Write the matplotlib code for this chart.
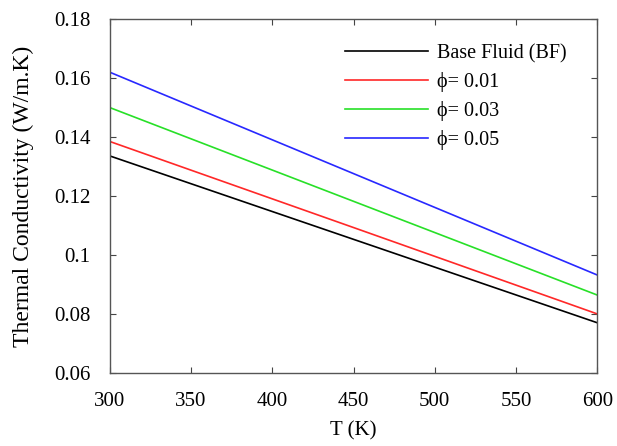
import matplotlib
matplotlib.use("Agg")
import matplotlib.pyplot as plt

plt.rcParams['font.family'] = ['Liberation Serif', 'DejaVu Serif']

temps = [300, 450, 600]
k_bf = [0.1336, 0.1053, 0.0770]
k_001 = [0.1385, 0.1093, 0.0800]
k_003 = [0.1500, 0.1182, 0.0864]
k_005 = [0.1620, 0.1276, 0.0932]

labels = ["Base Fluid (BF)", "\u03d5= 0.01", "\u03d5= 0.03", "\u03d5= 0.05"]
colors = ["black", "#ff2828", "#28e028", "#2828ff"]
series = [k_bf, k_001, k_003, k_005]

fig = plt.figure(figsize=(6.17, 4.46), dpi=100)
ax = fig.add_axes([0.178, 0.164, 0.79, 0.793])

for vals, lab, col in zip(series, labels, colors):
    ax.plot(temps, vals, color=col, lw=1.2, label=lab)

ax.set_xlim(300, 600)
ax.set_ylim(0.06, 0.18)
ax.set_xticks([300, 350, 400, 450, 500, 550, 600])
ax.set_yticks([0.06, 0.08, 0.10, 0.12, 0.14, 0.16, 0.18])
ax.set_yticklabels(["0.06", "0.08", "0.1", "0.12", "0.14", "0.16", "0.18"])
ax.tick_params(direction='in', top=True, right=True, labelsize=15, length=4,
               colors='#444444', labelcolor='black')
ax.tick_params(axis='y', pad=14)
ax.tick_params(axis='x', pad=14)
for s in ax.spines.values():
    s.set_color('#555555')
    s.set_linewidth(1.0)

ax.set_xlabel("T (K)", fontsize=15, labelpad=7)
ax.set_ylabel("Thermal Conductivity (W/m.K)", fontsize=17, labelpad=14)

ax.legend(loc='upper left', bbox_to_anchor=(0.483, 0.93), frameon=False,
          fontsize=14.5, handlelength=4.1, handletextpad=0.45,
          labelspacing=0.45, borderpad=0, borderaxespad=0)

fig.savefig("out.png", dpi=100)
